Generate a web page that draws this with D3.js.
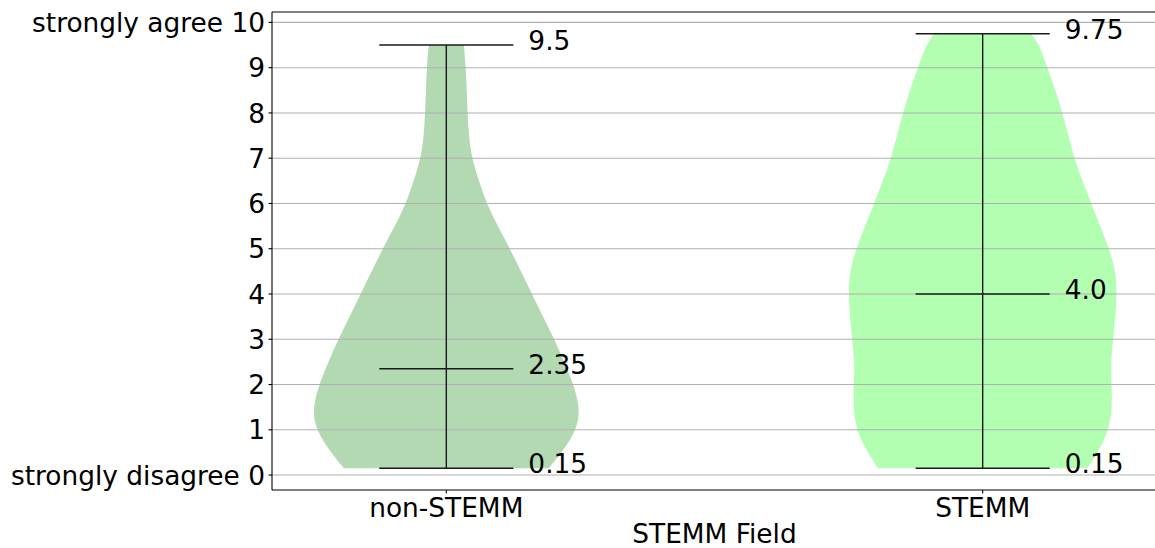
<!DOCTYPE html>
<html>
<head>
<meta charset="utf-8">
<script src="https://cdn.jsdelivr.net/npm/d3@7"></script>
<style>
  html, body { margin: 0; padding: 0; background: #fff; }
  svg { display: block; font-family: "DejaVu Sans", sans-serif; }
</style>
</head>
<body>
<svg id="chart" width="1155" height="548"></svg>
<script>
// Groups shown along the x axis
const categories = ["non-STEMM", "STEMM"];
const fillColors = ["green", "lime"];

// Summary statistics per group
const minValues = [0.15, 0.15];
const maxValues = [9.5, 9.75];
const medianValues = [2.35, 4.0];

// Kernel density profile per group: [response value, relative density]
const densityNonStemm = [
  [0.15, 0.763], [0.55, 0.875], [1.0, 0.97], [1.43, 1.0], [2.0, 0.95],
  [2.5, 0.88], [3.0, 0.805], [3.5, 0.722], [4.0, 0.638], [4.5, 0.557],
  [5.0, 0.475], [5.5, 0.383], [6.0, 0.30], [6.5, 0.243], [7.0, 0.19],
  [7.5, 0.168], [8.0, 0.158], [8.5, 0.152], [9.0, 0.146], [9.5, 0.131]
];
const densityStemm = [
  [0.15, 0.781], [0.55, 0.868], [1.0, 0.942], [1.5, 0.967], [2.0, 0.961],
  [2.5, 0.954], [3.0, 0.974], [3.5, 0.99], [4.0, 1.0], [4.5, 0.994],
  [5.0, 0.942], [5.5, 0.877], [6.0, 0.81], [6.5, 0.744], [7.0, 0.682],
  [7.5, 0.64], [8.0, 0.595], [8.5, 0.543], [9.0, 0.483], [9.5, 0.424],
  [9.75, 0.359]
];
const densities = [densityNonStemm, densityStemm];

// Y axis ticks and their labels
const yTicks = [0, 1, 2, 3, 4, 5, 6, 7, 8, 9, 10];
const yTickLabels = ["strongly disagree 0", "1", "2", "3", "4", "5", "6", "7", "8", "9", "strongly agree 10"];
const xAxisTitle = "STEMM Field";

const svg = d3.select("#chart");
const plot = { left: 272, right: 1157, top: 12, bottom: 490 };
const fontSize = 26.4;

const violinWidth = 0.5;
const yPad = (d3.max(maxValues) - d3.min(minValues)) * 0.05;
const y = d3.scaleLinear()
  .domain([d3.min(minValues) - yPad, d3.max(maxValues) + yPad])
  .range([plot.bottom, plot.top]);
const xPad = (categories.length - 1 + violinWidth) * 0.05;
const x = d3.scaleLinear()
  .domain([1 - violinWidth / 2 - xPad, categories.length + violinWidth / 2 + xPad])
  .range([plot.left, plot.right]);
const unit = x(2) - x(1);

// Violin bodies
categories.forEach((cat, i) => {
  const cx = x(i + 1);
  const dens = densities[i];
  const maxD = d3.max(dens, d => d[1]);
  const half = d => (d[1] / maxD) * (violinWidth / 2) * unit;
  const area = d3.area()
    .y(d => y(d[0]))
    .x0(d => cx - half(d))
    .x1(d => cx + half(d))
    .curve(d3.curveBasis);
  svg.append("path")
    .attr("d", area(dens))
    .attr("fill", fillColors[i])
    .attr("fill-opacity", 0.3)
    .attr("stroke", "none");
});

// Horizontal grid
svg.append("g")
  .selectAll("line")
  .data(yTicks)
  .join("line")
  .attr("x1", plot.left).attr("x2", plot.right)
  .attr("y1", d => y(d)).attr("y2", d => y(d))
  .attr("stroke", "#b0b0b0")
  .attr("stroke-width", 1.1);

// Extrema bars, median bar, centre line and value labels
const fmt = v => (Number.isInteger(v) ? v.toFixed(1) : String(v));
categories.forEach((cat, i) => {
  const cx = x(i + 1);
  const hw = (violinWidth / 4) * unit;
  const g = svg.append("g").attr("stroke", "#1a1a1a").attr("stroke-width", 1.4);
  g.append("line")
    .attr("x1", cx).attr("x2", cx)
    .attr("y1", y(minValues[i])).attr("y2", y(maxValues[i]));
  [minValues[i], medianValues[i], maxValues[i]].forEach(v => {
    g.append("line")
      .attr("x1", cx - hw).attr("x2", cx + hw)
      .attr("y1", y(v)).attr("y2", y(v));
  });
  [minValues[i], medianValues[i], maxValues[i]].forEach(v => {
    svg.append("text")
      .attr("x", cx + hw + 15)
      .attr("y", y(v) + 5)
      .attr("font-size", fontSize)
      .attr("fill", "#000")
      .text(fmt(v));
  });
});

// Axes frame
const axisG = svg.append("g").attr("stroke", "#000").attr("stroke-width", 1.1);
axisG.append("line").attr("x1", plot.left).attr("x2", plot.left).attr("y1", plot.top).attr("y2", plot.bottom);
axisG.append("line").attr("x1", plot.left).attr("x2", plot.right).attr("y1", plot.top).attr("y2", plot.top);
axisG.append("line").attr("x1", plot.left).attr("x2", plot.right).attr("y1", plot.bottom).attr("y2", plot.bottom);

// Y ticks and labels
yTicks.forEach((t, i) => {
  svg.append("line")
    .attr("x1", plot.left - 3.5).attr("x2", plot.left)
    .attr("y1", y(t)).attr("y2", y(t))
    .attr("stroke", "#000").attr("stroke-width", 1.1);
  svg.append("text")
    .attr("x", plot.left - 7)
    .attr("y", y(t) + fontSize * 0.3645)
    .attr("text-anchor", "end")
    .attr("font-size", fontSize)
    .attr("fill", "#000")
    .text(yTickLabels[i]);
});

// X ticks and labels
categories.forEach((cat, i) => {
  const cx = x(i + 1);
  svg.append("line")
    .attr("x1", cx).attr("x2", cx)
    .attr("y1", plot.bottom).attr("y2", plot.bottom + 3.5)
    .attr("stroke", "#000").attr("stroke-width", 1.1);
  svg.append("text")
    .attr("x", cx)
    .attr("y", 517)
    .attr("text-anchor", "middle")
    .attr("font-size", fontSize)
    .attr("fill", "#000")
    .text(cat);
});

// X axis title
svg.append("text")
  .attr("x", (x(1) + x(2)) / 2)
  .attr("y", 543)
  .attr("text-anchor", "middle")
  .attr("font-size", fontSize)
  .attr("fill", "#000")
  .text(xAxisTitle);
</script>
</body>
</html>
